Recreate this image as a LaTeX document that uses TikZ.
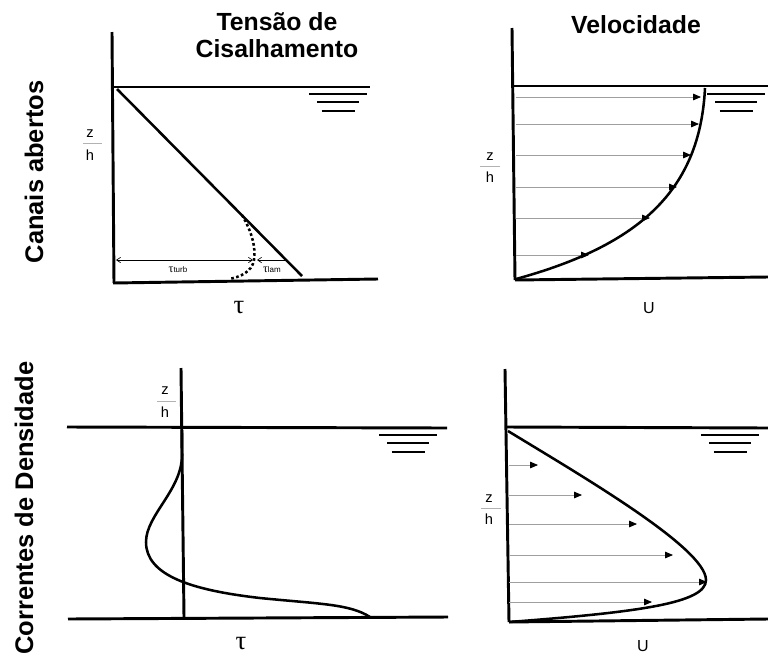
\documentclass[tikz,border=0pt]{standalone}
\usepackage{fontspec}
\setmainfont{Liberation Sans}
\newfontfamily\taufont{Liberation Serif}
\usetikzlibrary{arrows.meta}

\begin{document}
\begin{tikzpicture}[x=0.75pt, y=-0.75pt, >={Straight Barb[length=3pt, width=4pt]},
    eixo/.style={line width=2.2pt},
    perfil/.style={line width=1.9pt},
    nivel/.style={line width=2.2pt},
    cota/.style={line width=0.5pt},
    seta/.style={gray!75, line width=0.6pt, -{Triangle[length=6pt, width=5pt, color=black]}},
    titulo/.style={font=\fontsize{18.6}{21}\selectfont\bfseries, anchor=base},
    rotulo/.style={font=\fontsize{19.1}{22}\selectfont\bfseries, rotate=90, anchor=base},
    adim/.style={font=\fontsize{11}{12}\selectfont, anchor=base},
    taulabel/.style={font=\taufont\fontsize{20}{21}\selectfont},
    ulabel/.style={font=\fontsize{12}{13}\selectfont}]

\useasboundingbox (0,0) rectangle (768,654);

% === Titulos ===
\node[titulo] (tensaoA) at (277,30) {Tensão de};
\node[titulo] (tensaoB) at (277,57) {Cisalhamento};
\node[titulo] (veloc) at (636,33) {Velocidade};
\node[rotulo] (canais) at (43,172) {Canais abertos};
\node[rotulo] (correntes) at (33,508) {Correntes de Densidade};

% === Nivel de agua (simbolo) ===
\foreach \cx/\cy in {338/94, 736/94, 408/435, 730/435} {
    \draw[nivel] (\cx-29,\cy) -- (\cx+29,\cy);
    \draw[nivel] (\cx-21,\cy+8) -- (\cx+21,\cy+8);
    \draw[nivel] (\cx-16.5,\cy+17) -- (\cx+16.5,\cy+17);
}

% === Canais abertos: tensao ===
\draw[eixo] (112,32) -- (114,283);
\draw[eixo] (114,87) -- (370,87);
\draw[eixo] (113,283) -- (378,279);
\draw[perfil] (117,89) -- (302,276);
% parte laminar (pontilhada)
\draw[perfil, dash pattern=on 2pt off 1.8pt]
    (242,215) .. controls (252,232) and (256,248) .. (254,260)
    .. controls (252,272) and (240,277) .. (229,279);
\coordinate (cotaEsq) at (116,260);
\coordinate (cotaMeio) at (253,260);
\coordinate (cotaLam) at (257,260);
\coordinate (cotaDir) at (286,260);
\draw[cota, <->] (cotaEsq) -- (cotaMeio);
\draw[cota, ->] (cotaDir) -- (cotaLam);
\node (turb) at (178,270) {{\taufont\fontsize{9}{10}\selectfont τ}{\fontsize{6}{7}\selectfont turb}};
\node (lam) at (272,270) {{\taufont\fontsize{9}{10}\selectfont τ}{\fontsize{6}{7}\selectfont lam}};
\node[adim] (zA) at (90,137) {z};
\draw[gray!60, line width=0.5pt] (83,143) -- (102,143);
\node[adim] (hA) at (90,160) {h};
\node[taulabel] (tauA) at (239,308) {τ};

% === Canais abertos: velocidade ===
\draw[eixo] (512,28) -- (515,280);
\draw[eixo] (512,86) -- (768,86);
\draw[eixo] (515,280) -- (768,277);
\foreach \y/\x in {97/701, 124/699, 155/691, 187/677, 218/650, 255/589}
    \draw[seta] (516,\y) -- (\x,\y);
\draw[perfil] (516,279) .. controls (640,245) and (700,190) .. (705,88);
\node[adim] (zB) at (490,160) {z};
\draw[gray!60, line width=0.5pt] (480,166) -- (500,166);
\node[adim] (hB) at (490,182) {h};
\node[ulabel] (uA) at (649,308) {U};

% === Correntes de densidade: tensao ===
\draw[eixo] (181,368) -- (184,617);
\draw[eixo] (67,427) -- (447,428);
\draw[eixo] (68,619) -- (448,617);
\draw[perfil] (182,430) -- (182,455)
    .. controls (182,490) and (146,515) .. (146,542)
    .. controls (146,575) and (190,590) .. (260,598)
    .. controls (320,604) and (350,604) .. (370,617);
\node[adim] (zC) at (165,394) {z};
\draw[gray!60, line width=0.5pt] (157,401) -- (176,401);
\node[adim] (hC) at (165,417) {h};
\node[taulabel] (tauB) at (241,644) {τ};

% === Correntes de densidade: velocidade ===
\draw[eixo] (505,369) -- (509,622);
\draw[eixo] (507,427) -- (768,428);
\draw[eixo] (509,622) -- (768,619);
\foreach \y/\x in {465/538, 495/582, 524/637, 555/673, 582/707, 602/652}
    \draw[seta] (509,\y) -- (\x,\y);
\draw[perfil] (508,431) .. controls (580,475) and (706,548) .. (706,580)
    .. controls (706,603) and (640,612) .. (509,622);
\node[adim] (zD) at (489,502) {z};
\draw[gray!60, line width=0.5pt] (481,508) -- (501,508);
\node[adim] (hD) at (489,524) {h};
\node[ulabel] (uB) at (643,646) {U};

\end{tikzpicture}
\end{document}
